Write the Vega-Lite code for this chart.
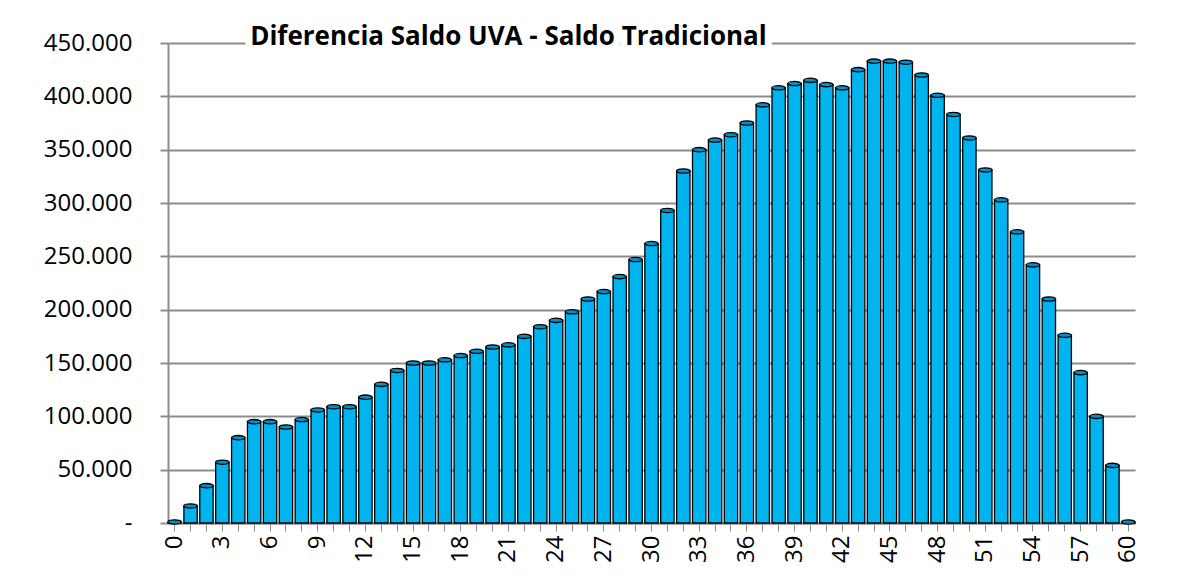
{
  "$schema": "https://vega.github.io/schema/vega-lite/v6.json",
  "width": 967,
  "height": 480,
  "autosize": "none",
  "padding": {"left": 168, "top": 43, "right": 45, "bottom": 58},
  "background": "white",
  "config": {
    "view": {"stroke": null},
    "font": "Open Sans"
  },
  "data": {
    "values": [
      {"t": 0, "v": 1000}, {"t": 1, "v": 16000}, {"t": 2, "v": 35000}, {"t": 3, "v": 57000},
      {"t": 4, "v": 80000}, {"t": 5, "v": 95000}, {"t": 6, "v": 95000}, {"t": 7, "v": 90000},
      {"t": 8, "v": 97000}, {"t": 9, "v": 106000}, {"t": 10, "v": 109000}, {"t": 11, "v": 109000},
      {"t": 12, "v": 118000}, {"t": 13, "v": 130000}, {"t": 14, "v": 143000}, {"t": 15, "v": 150000},
      {"t": 16, "v": 150000}, {"t": 17, "v": 153000}, {"t": 18, "v": 157000}, {"t": 19, "v": 161000},
      {"t": 20, "v": 165000}, {"t": 21, "v": 167000}, {"t": 22, "v": 175000}, {"t": 23, "v": 184000},
      {"t": 24, "v": 190000}, {"t": 25, "v": 198000}, {"t": 26, "v": 210000}, {"t": 27, "v": 217000},
      {"t": 28, "v": 231000}, {"t": 29, "v": 247000}, {"t": 30, "v": 262000}, {"t": 31, "v": 293000},
      {"t": 32, "v": 330000}, {"t": 33, "v": 350000}, {"t": 34, "v": 359000}, {"t": 35, "v": 364000},
      {"t": 36, "v": 375000}, {"t": 37, "v": 392000}, {"t": 38, "v": 408000}, {"t": 39, "v": 412000},
      {"t": 40, "v": 415000}, {"t": 41, "v": 411000}, {"t": 42, "v": 408000}, {"t": 43, "v": 425000},
      {"t": 44, "v": 433000}, {"t": 45, "v": 433000}, {"t": 46, "v": 432000}, {"t": 47, "v": 420000},
      {"t": 48, "v": 401000}, {"t": 49, "v": 383000}, {"t": 50, "v": 361000}, {"t": 51, "v": 331000},
      {"t": 52, "v": 303000}, {"t": 53, "v": 273000}, {"t": 54, "v": 242000}, {"t": 55, "v": 210000},
      {"t": 56, "v": 176000}, {"t": 57, "v": 141000}, {"t": 58, "v": 100000}, {"t": 59, "v": 54000},
      {"t": 60, "v": 1000}
    ]
  },
  "encoding": {
    "x": {
      "field": "t",
      "type": "ordinal",
      "sort": null,
      "scale": {"paddingInner": 0.16, "paddingOuter": 0},
      "axis": {
        "title": null,
        "labelAngle": 270,
        "labelExpr": "datum.value % 3 == 0 ? datum.label : ''",
        "labelFontSize": 24,
        "labelColor": "#000",
        "labelPadding": 4,
        "tickSize": 8,
        "tickColor": "#8c8c8c",
        "domainColor": "#8c8c8c",
        "domainWidth": 2,
        "grid": false
      }
    }
  },
  "layer": [
    {
      "mark": {"type": "bar", "color": "#00B4F0", "stroke": "#000", "strokeWidth": 1.3},
      "encoding": {
        "y": {
          "field": "v",
          "type": "quantitative",
          "scale": {"domain": [0, 450000], "nice": false},
          "axis": {
            "title": null,
            "values": [0, 50000, 100000, 150000, 200000, 250000, 300000, 350000, 400000, 450000],
            "labelExpr": "datum.value == 0 ? '-' : replace(format(datum.value, ','), ',', '.')",
            "labelFontSize": 24,
            "labelColor": "#000",
            "labelPadding": 28,
            "tickSize": 8,
            "tickColor": "#8c8c8c",
            "tickWidth": 2,
            "domainColor": "#8c8c8c",
            "domainWidth": 2,
            "grid": true,
            "gridColor": "#8c8c8c",
            "gridWidth": 2
          }
        }
      }
    },
    {
      "mark": {
        "type": "point",
        "shape": "M -1 0 A 1 0.32 0 1 0 1 0 A 1 0.32 0 1 0 -1 0 Z",
        "filled": true,
        "fill": "#0A8CC6",
        "stroke": "#000",
        "strokeWidth": 1.3,
        "size": 180,
        "opacity": 1
      },
      "encoding": {
        "y": {"field": "v", "type": "quantitative"}
      }
    },
    {
      "data": {"values": [{"label": "Diferencia Saldo UVA - Saldo Tradicional"}]},
      "mark": {"type": "text", "fontSize": 26, "fontWeight": "bold", "align": "center", "baseline": "middle", "stroke": "white", "strokeWidth": 14, "dy": -6, "color": "white"},
      "encoding": {
        "x": {"datum": 21},
        "y": {"datum": 450000},
        "text": {"field": "label"}
      }
    },
    {
      "data": {"values": [{"label": "Diferencia Saldo UVA - Saldo Tradicional"}]},
      "mark": {"type": "text", "fontSize": 26, "fontWeight": "bold", "align": "center", "baseline": "middle", "dy": -6, "color": "#000"},
      "encoding": {
        "x": {"datum": 21},
        "y": {"datum": 450000},
        "text": {"field": "label"}
      }
    }
  ]
}
